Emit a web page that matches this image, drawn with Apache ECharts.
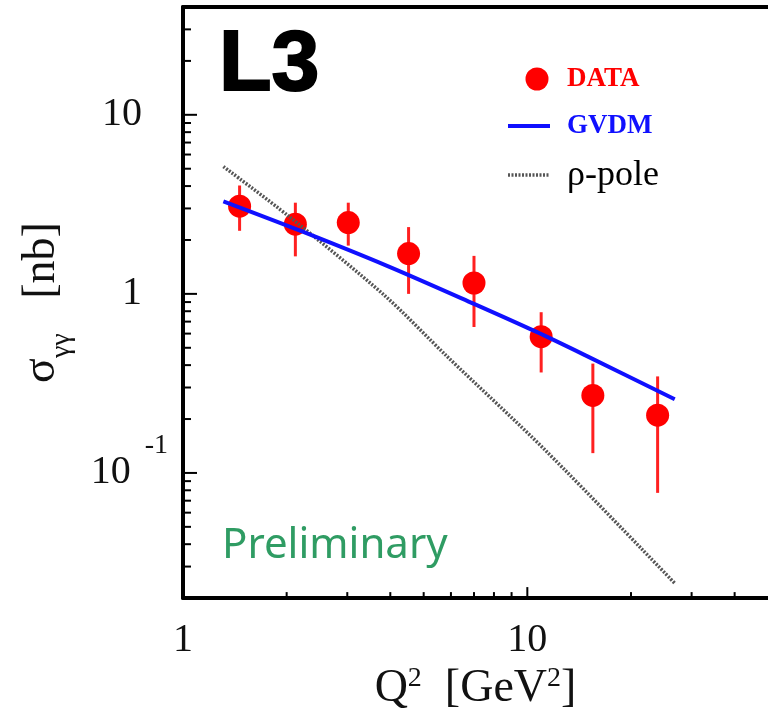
<!DOCTYPE html>
<html><head><meta charset="utf-8">
<script src="https://cdn.jsdelivr.net/npm/echarts@6/dist/echarts.min.js"></script>
<style>html,body{margin:0;padding:0;background:#fff}#c{width:768px;height:717px}</style>
</head><body><div id="c"></div>
<script>
// ---- data ----
const q2 = [1.46, 2.12, 3.02, 4.52, 7.0, 10.97, 15.5, 23.9];
const sigma = [3.09, 2.45, 2.50, 1.68, 1.15, 0.577, 0.271, 0.21];
const sigmaLow = [2.25, 1.62, 1.86, 1.0, 0.653, 0.364, 0.129, 0.0774];
const sigmaHigh = [4.03, 3.23, 3.23, 2.36, 1.63, 0.79, 0.408, 0.346];

const gvdmQ2 = [1.31, 2.17, 3.93, 7.0, 10.6, 14.8, 26.8];
const gvdmSigma = [3.29, 2.27, 1.43, 0.88, 0.615, 0.452, 0.258];

const rhoQ2 = [1.31, 2.03, 3.86, 5.85, 11.34, 26.8];
const rhoSigma = [5.14, 2.71, 0.975, 0.447, 0.1325, 0.0242];

const xTickValues = [1, 10];
const xTickLabels = ['1', '10'];
const xMinorTicks = [2, 3, 4, 5, 6, 7, 8, 9, 20, 30, 40];
const yTickValues = [0.1, 1, 10];
const yTickBase = ['10', '1', '10'];
const yTickExp = ['-1', '', ''];
const yMinorTicks = [0.03, 0.04, 0.05, 0.06, 0.07, 0.08, 0.09, 0.2, 0.3, 0.4, 0.5, 0.6, 0.7, 0.8, 0.9, 2, 3, 4, 5, 6, 7, 8, 9, 20, 30];

const X_MIN = 1, X_MAX = 50, Y_MIN = 0.02, Y_MAX = 40;

const legendNames = ['DATA', 'GVDM', 'ρ-pole'];
const titleText = 'L3';
const watermark = 'Preliminary';

// ---- chart ----
const SERIF = 'Liberation Serif';
const RED = '#ff0000', BLUE = '#1010ff';

function same(a, b) { return Math.abs(Math.log10(a) - Math.log10(b)) < 1e-6; }

function tickSeries(vals, axis, len) {
  return {
    type: 'custom', silent: true, z: 6, clip: false,
    data: vals.map(v => axis === 'y' ? [X_MIN, v] : [v, Y_MIN]),
    renderItem: function (params, api) {
      const p = api.coord([api.value(0), api.value(1)]);
      const shape = axis === 'y'
        ? { x1: p[0], y1: p[1], x2: p[0] + len, y2: p[1] }
        : { x1: p[0], y1: p[1], x2: p[0], y2: p[1] - len };
      return { type: 'line', shape: shape, style: { stroke: '#000', lineWidth: 2 } };
    }
  };
}

const frameLine = { show: true, onZero: false, lineStyle: { color: '#000', width: 4 } };

const chart = echarts.init(document.getElementById('c'), null, { renderer: 'canvas' });
chart.setOption({
  animation: false,
  backgroundColor: '#fff',
  grid: { left: 183, top: 7, right: -6, bottom: 116, show: false },
  xAxis: [{
    type: 'log', logBase: 10, min: X_MIN, max: X_MAX,
    axisLine: frameLine, axisTick: { show: false }, splitLine: { show: false },
    axisLabel: {
      showMinLabel: true, showMaxLabel: false, margin: 22,
      fontFamily: SERIF, fontSize: 40, color: '#111',
      formatter: function (v) {
        for (let i = 0; i < xTickValues.length; i++) if (same(v, xTickValues[i])) return xTickLabels[i];
        return '';
      }
    },
    name: '{m|Q}{s|2}{m|  [GeV}{s|2}{m|]}',
    nameLocation: 'middle', nameGap: 65,
    nameTextStyle: {
      rich: {
        m: { fontFamily: SERIF, fontSize: 46, color: '#111' },
        s: { fontFamily: SERIF, fontSize: 28, color: '#111', padding: [0, 0, 20, 0] }
      }
    }
  }, {
    type: 'log', logBase: 10, min: X_MIN, max: X_MAX, position: 'top',
    axisLine: frameLine, axisTick: { show: false }, splitLine: { show: false },
    axisLabel: { show: false }
  }],
  yAxis: {
    type: 'log', logBase: 10, min: Y_MIN, max: Y_MAX,
    axisLine: frameLine, axisTick: { show: false }, splitLine: { show: false },
    axisLabel: {
      showMinLabel: false, showMaxLabel: false, margin: 15,
      formatter: function (v) {
        for (let i = 0; i < yTickValues.length; i++) {
          if (same(v, yTickValues[i])) {
            return yTickExp[i] ? '{a|' + yTickBase[i] + '}{s|' + yTickExp[i] + '}' : '{ap|' + yTickBase[i] + '}';
          }
        }
        return '';
      },
      rich: {
        a: { fontFamily: SERIF, fontSize: 40, color: '#111' },
        ap: { fontFamily: SERIF, fontSize: 40, color: '#111', padding: [0, 26, 0, 0] },
        s: { fontFamily: SERIF, fontSize: 28, color: '#111', padding: [0, 0, 54, 14] }
      }
    },
    name: '{m|σ}{sub|γγ}{m|   [nb]}',
    nameLocation: 'middle', nameGap: 107,
    nameTextStyle: {
      rich: {
        m: { fontFamily: SERIF, fontSize: 46, color: '#111' },
        sub: { fontFamily: SERIF, fontSize: 28, color: '#111', padding: [40, 0, 0, 0] }
      }
    }
  },
  series: [
    {
      type: 'custom', name: 'errors', z: 2,
      data: q2.map((x, i) => [x, sigmaLow[i], sigmaHigh[i]]),
      encode: { x: 0, y: [1, 2] },
      renderItem: function (params, api) {
        const lo = api.coord([api.value(0), api.value(1)]);
        const hi = api.coord([api.value(0), api.value(2)]);
        return { type: 'line', shape: { x1: lo[0], y1: lo[1], x2: hi[0], y2: hi[1] }, style: { stroke: '#ff2020', lineWidth: 3 } };
      }
    },
    {
      type: 'scatter', name: legendNames[0], z: 3,
      data: q2.map((x, i) => [x, sigma[i]]),
      symbol: 'circle', symbolSize: 23,
      itemStyle: { color: RED, opacity: 1 }
    },
    {
      type: 'line', name: legendNames[2], z: 4,
      data: rhoQ2.map((x, i) => [x, rhoSigma[i]]),
      symbol: 'none', smooth: 0.3,
      lineStyle: { color: '#555', width: 3.5, type: [2, 1.5] }
    },
    {
      type: 'line', name: legendNames[1], z: 5,
      data: gvdmQ2.map((x, i) => [x, gvdmSigma[i]]),
      symbol: 'none', smooth: 0.3,
      lineStyle: { color: BLUE, width: 4 }
    },
    tickSeries(yTickValues, 'y', 14),
    tickSeries(yMinorTicks, 'y', 8),
    tickSeries(xTickValues.slice(1), 'x', 11),
    tickSeries(xMinorTicks, 'x', 6)
  ],
  graphic: [
    { type: 'text', x: 219, y: 66, style: { text: titleText, font: '900 86px "Liberation Sans"', fill: '#000', textVerticalAlign: 'middle', stroke: '#000', lineWidth: 2 }, z: 10 },
    { type: 'text', x: 222, y: 546, style: { text: watermark, font: '42px "Noto Sans"', fill: '#2f9c63', textVerticalAlign: 'middle' }, z: 10 },
    { type: 'circle', shape: { cx: 537, cy: 79, r: 11.5 }, style: { fill: RED }, z: 10 },
    { type: 'text', x: 567, y: 79, style: { text: legendNames[0], font: 'bold 27px "Liberation Serif"', fill: RED, textVerticalAlign: 'middle' }, z: 10 },
    { type: 'line', shape: { x1: 508, y1: 126, x2: 550, y2: 126 }, style: { stroke: BLUE, lineWidth: 4 }, z: 10 },
    { type: 'text', x: 567, y: 126, style: { text: legendNames[1], font: 'bold 27px "Liberation Serif"', fill: BLUE, textVerticalAlign: 'middle' }, z: 10 },
    { type: 'line', shape: { x1: 508, y1: 175, x2: 549, y2: 175 }, style: { stroke: '#555', lineWidth: 3.5, lineDash: [2, 1.5] }, z: 10 },
    { type: 'text', x: 567, y: 176, style: { text: legendNames[2], font: '36px "Liberation Serif"', fill: '#000', textVerticalAlign: 'middle' }, z: 10 }
  ]
});
</script>
</body></html>
